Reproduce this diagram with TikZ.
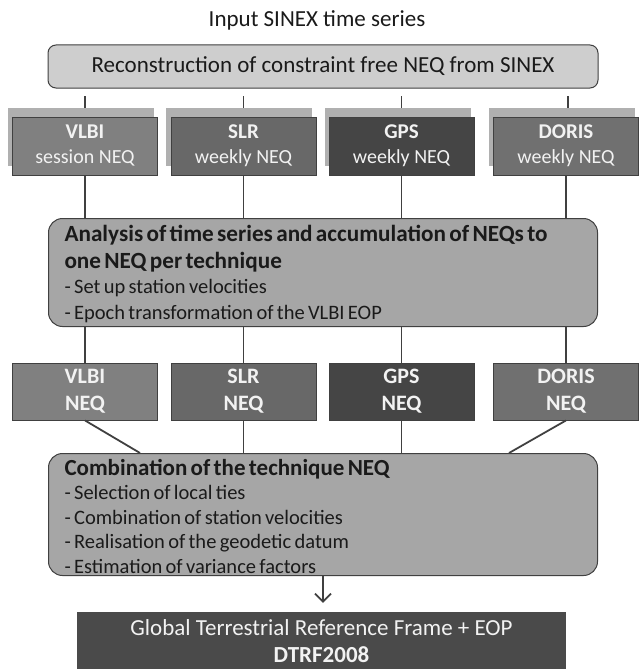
\documentclass[tikz,border=0pt]{standalone}
\usepackage{fontspec}
\setmainfont{Carlito}
\usetikzlibrary{arrows.meta,calc}

\definecolor{linec}{HTML}{404040}
\definecolor{topfill}{HTML}{CECECE}
\definecolor{bigfill}{HTML}{A6A6A6}
\definecolor{vlbic}{HTML}{808080}
\definecolor{slrc}{HTML}{686868}
\definecolor{gpsc}{HTML}{454545}
\definecolor{dorisc}{HTML}{707070}
\definecolor{shadowc}{HTML}{B0B0B0}
\definecolor{bottomc}{HTML}{4A4A4A}
\definecolor{lighttext}{HTML}{F2F2F2}
\definecolor{darktext}{HTML}{1A1A1A}

\begin{document}
\begin{tikzpicture}[x=1pt,y=-1pt,
  conn/.style={draw=linec, line width=1.8pt},
  techbox/.style={draw=linec, line width=0.9pt, minimum width=145pt, inner sep=0pt, text=lighttext, align=center},
  rowone/.style={techbox, minimum height=58pt, font=\fontsize{20}{25}\selectfont},
  rowtwo/.style={techbox, minimum height=57pt, font=\fontsize{22}{27}\selectfont\bfseries},
  shadowbox/.style={fill=shadowc, minimum width=146pt, minimum height=58pt, inner sep=0pt},
  bigbox/.style={draw=linec, line width=1pt, fill=bigfill, rounded corners=14pt, minimum width=549pt, text width=517pt, inner xsep=16pt, inner ysep=0pt, align=left, anchor=north west, text=darktext},
  headfont/.style={font=\fontsize{23}{27}\selectfont},
]
\useasboundingbox (0,0) rectangle (638,669);

% title and top box
\node[headfont, text=darktext] (title) at (317,20) {Input SINEX time series};
\node[draw=linec, line width=1pt, fill=topfill, rounded corners=8pt, minimum width=550pt, minimum height=43pt, headfont, text=darktext] (top) at (323,66.5) {Reconstruction of constraint free NEQ from SINEX};

% shadows of first row
\node[shadowbox] (s1) at (80.5,137) {};
\node[shadowbox] (s2) at (239,137) {};
\node[shadowbox] (s3) at (398,137) {};
\node[shadowbox] (s4) at (562,137) {};

% first row
\node[rowone, fill=vlbic]  (v1) at (85,146)    {\textbf{\fontsize{21}{25}\selectfont VLBI}\\session NEQ};
\node[rowone, fill=slrc]   (v2) at (243.5,146) {\textbf{\fontsize{21}{25}\selectfont SLR}\\weekly NEQ};
\node[rowone, fill=gpsc]   (v3) at (401.5,146) {\textbf{\fontsize{21}{25}\selectfont GPS}\\weekly NEQ};
\node[rowone, fill=dorisc] (v4) at (566,146)   {\textbf{\fontsize{21}{25}\selectfont DORIS}\\weekly NEQ};

% ticks
\coordinate (t1) at (85,96);
\coordinate (t2) at (243.5,96);
\coordinate (t3) at (401.5,96);
\coordinate (t4) at (568,96);
\foreach \i in {1,2,3,4} \draw[conn] (t\i) -- (t\i |- s\i.north);

% analysis box
\node[bigbox, text height=22.5pt, text depth=85.5pt] (ana) at (48,218)
 {{\fontsize{23.2}{27}\selectfont\bfseries Analysis of time series and accumulation of NEQs to\\one NEQ per technique\par}
  {\fontsize{20.5}{25.5}\selectfont - Set up station velocities\\- Epoch transformation of the VLBI EOP\par}};

% second row
\node[rowtwo, fill=vlbic]  (w1) at (85,391.5)    {VLBI\\NEQ};
\node[rowtwo, fill=slrc]   (w2) at (243.5,391.5) {SLR\\NEQ};
\node[rowtwo, fill=gpsc]   (w3) at (401.5,391.5) {GPS\\NEQ};
\node[rowtwo, fill=dorisc] (w4) at (566,391.5)   {DORIS\\NEQ};

% combination box
\node[bigbox, text height=21.5pt, text depth=100.5pt] (comb) at (48,453)
 {{\fontsize{23}{27}\selectfont\bfseries Combination of the technique NEQ\par}
  {\fontsize{20.5}{24.5}\selectfont - Selection of local ties\\- Combination of station velocities\\- Realisation of the geodetic datum\\- Estimation of variance factors\par}};

% result box
\node[fill=bottomc, minimum width=489pt, minimum height=58pt, inner sep=0pt, text=lighttext, align=center, headfont] (out) at (321.5,641)
 {Global Terrestrial Reference Frame + EOP\\\textbf{DTRF2008}};

% connectors
\foreach \i in {1,2,3,4} {
  \draw[conn] (v\i.south) -- (v\i.south |- ana.north);
  \draw[conn] (w\i.north |- ana.south) -- (w\i.north);
}
\coordinate (cv) at ($(comb.north west)+(92,0)$);
\coordinate (cd) at ($(comb.north west)+(461,0)$);
\draw[conn] (w1.south) -- (cv);
\draw[conn] (w2.south) -- (w2.south |- comb.north);
\draw[conn] (w3.south) -- (w3.south |- comb.north);
\draw[conn] (w4.south) -- (cd);
\draw[conn, -{Straight Barb[length=8pt,width=16pt,line width=1.8pt]}, shorten >=9pt] (comb.south) -- (comb.south |- out.north);
\end{tikzpicture}
\end{document}
